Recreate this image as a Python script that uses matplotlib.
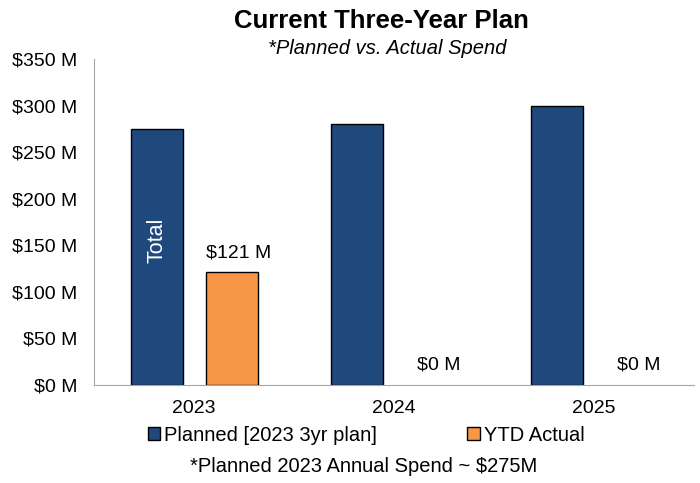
import matplotlib.pyplot as plt
import numpy as np
from matplotlib.patches import Patch

plt.rcParams['font.family'] = ['Liberation Sans', 'DejaVu Sans']

years = ['2023', '2024', '2025']
planned = [275, 280, 300]
actual = [121, 0, 0]

navy = '#1F497D'
orange = '#F79646'

fig = plt.figure(figsize=(7, 4.83), dpi=100)
ax = fig.add_axes([0.134, 0.203, 0.857, 0.675])

x = np.arange(len(years))
w = 0.26
ax.bar(x - 0.185, planned, w, color=navy, edgecolor='black', linewidth=1)
ax.bar(x + 0.19, actual, w, color=orange,
       edgecolor=['black' if v > 0 else 'none' for v in actual], linewidth=1)

for xi, v in zip(x, actual):
    ax.text(xi + 0.225, v + 12, f'${v} M', ha='center', va='bottom', fontsize=14)

ax.text(x[0] - 0.185, 155, 'Total', rotation=90, color='white', ha='center', va='center', fontsize=15.5)

ax.set_xlim(-0.5, 2.5)
ax.set_ylim(0, 350)
ax.set_yticks(range(0, 351, 50))
ax.set_yticklabels([f'${v} M' for v in range(0, 351, 50)], fontsize=14)
ax.set_xticks(x)
ax.set_xticklabels(years, fontsize=14)
ax.tick_params(axis='y', length=0, pad=12)
ax.tick_params(axis='x', length=0, pad=11)
for s in ['top', 'right']:
    ax.spines[s].set_visible(False)
ax.spines['left'].set_color('#A6A6A6')
ax.spines['bottom'].set_color('#A6A6A6')

fig.text(0.545, 0.957, 'Current Three-Year Plan', ha='center', va='center', fontsize=18.5, fontweight='bold')
fig.text(0.553, 0.9, '*Planned vs. Actual Spend', ha='center', va='center', fontsize=14.5, style='italic')

handles = [Patch(facecolor=navy, edgecolor='black', label='Planned [2023 3yr plan]'),
           Patch(facecolor=orange, edgecolor='black', label='YTD Actual')]
fig.legend(handles=handles, loc='center', bbox_to_anchor=(0.523, 0.099), ncol=2, frameon=False,
           fontsize=14.5, handlelength=0.6, handleheight=0.6, handletextpad=0.2, columnspacing=4.5)

fig.text(0.519, 0.035, '*Planned 2023 Annual Spend ~ $275M', ha='center', va='center', fontsize=14.5)

fig.savefig('out.png', dpi=100)
